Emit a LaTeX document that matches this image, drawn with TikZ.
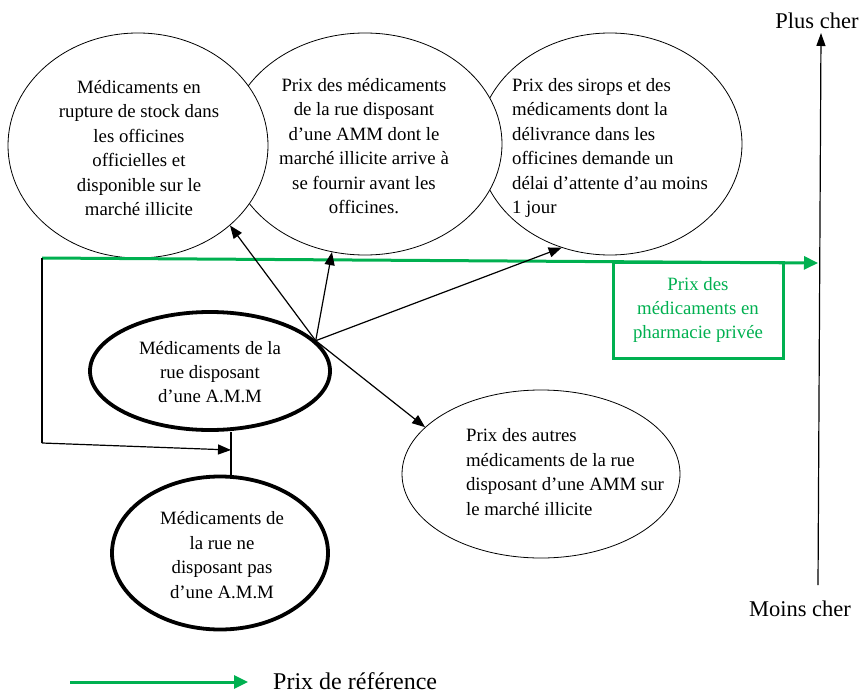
\documentclass[tikz,border=0pt]{standalone}
\usepackage{fontspec}
\setmainfont{Liberation Serif}
\usetikzlibrary{arrows.meta,shapes.geometric}
\definecolor{vert}{RGB}{0,176,80}
\begin{document}
\begin{tikzpicture}[x=1pt,y=-1pt,
  ell/.style={draw=black, line width=0.8pt, ellipse, fill=white, inner sep=0pt},
  thickell/.style={draw=black, line width=3.8pt, ellipse, fill=white, inner sep=0pt},
  txt/.style={font=\fontsize{18.8}{24.4}\selectfont, align=center, inner sep=0pt},
  lbl/.style={font=\fontsize{22.5}{27}\selectfont, inner sep=0pt},
  conn/.style={draw=black, line width=1.2pt, -{Triangle[length=13pt,width=10pt]}},
  plainline/.style={draw=black, line width=1.2pt},
  greenarrow/.style={draw=vert, line width=3pt, -{Triangle[length=14pt,width=13pt]}}]
\useasboundingbox (0,0) rectangle (861,695);

% top ellipses (drawn right to left so the left one is on top)
\node[ell, minimum width=264pt, minimum height=222pt] (e3) at (610,144) {};
\node[ell, minimum width=274pt, minimum height=222pt] (e2) at (365,144) {};
\node[ell, minimum width=260pt, minimum height=225pt] (e1) at (138,145.5) {};

\node[txt] (t1) at (139,148) {Médicaments en\\rupture de stock dans\\les officines\\officielles et\\disponible sur le\\marché illicite};
\node[txt] (t2) at (364,146) {Prix des médicaments\\de la rue disposant\\d’une AMM dont le\\marché illicite arrive à\\se fournir avant les\\officines.};
\node[txt, align=left] (t3) at (610,148) {Prix des sirops et des\\médicaments dont la\\délivrance dans les\\officines demande un\\délai d’attente d’au moins\\1 jour};

% lower ellipses
\node[thickell, minimum width=240pt, minimum height=118pt] (e4) at (210,371) {};
\node[txt] (t4) at (210,372) {Médicaments de la\\rue disposant\\d’une A.M.M};
\node[thickell, minimum width=216pt, minimum height=153pt] (e5) at (220,553) {};
\node[txt] (t5) at (222,555) {Médicaments de\\la rue ne\\disposant pas\\d’une A.M.M};
\node[ell, minimum width=278pt, minimum height=168pt] (e6) at (541,474) {};
\node[txt, align=left] (t6) at (565,472) {Prix des autres\\médicaments de la rue\\disposant d’une AMM sur\\le marché illicite};

% reference price line and box
\coordinate (gs) at (42,258);
\coordinate (ge) at (818,263);
\draw[greenarrow] (gs) -- (ge);
\node[txt, draw=vert, line width=3pt, text=vert, minimum width=170pt, minimum height=96pt] (pp) at (698,310) {Prix des\\médicaments en\\pharmacie privée};

% price axis
\coordinate (axb) at (818,585);
\coordinate (axt) at (821,33);
\draw[line width=1.2pt, -{Triangle[length=13pt,width=9pt]}] (axb) -- (axt);
\node[lbl] (plus) at (817,21) {Plus cher};
\node[lbl] (moins) at (800,609) {Moins cher};

% connectors
\draw[conn] (e4.16) -- (e1.-41.5);
\draw[conn] (e4.16) -- (e2.-107.8);
\draw[conn] (e4.16) -- (e3.-115.7);
\draw[conn] (e4.16) -- (e6.158);

\coordinate (corner) at (42,443);
\coordinate (j) at (231,450);
\draw[plainline] (gs) -- (corner);
\draw[conn] (corner) -- (j);
\draw[plainline] (j |- e4.south) -- (j |- e5.north);

% legend
\coordinate (la) at (70,682);
\coordinate (lb) at (248,682);
\draw[greenarrow] (la) -- (lb);
\node[font=\fontsize{24}{29}\selectfont, inner sep=0pt, anchor=west] (leg) at (273,681) {Prix de référence};
\end{tikzpicture}
\end{document}
